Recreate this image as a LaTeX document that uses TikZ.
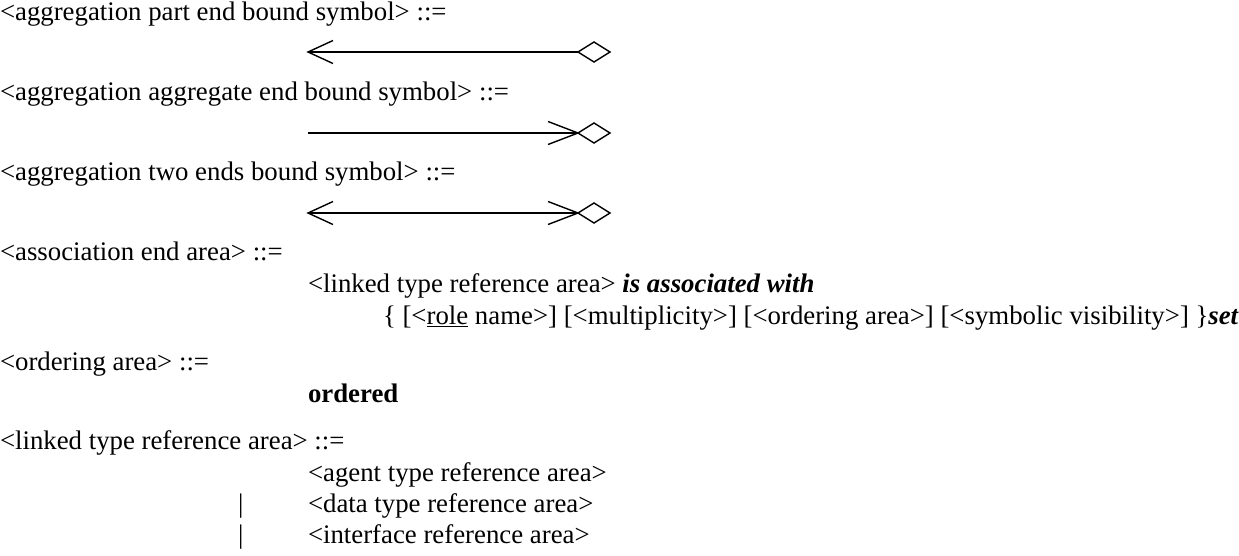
\documentclass[tikz,border=0pt]{standalone}
\usepackage{fontspec}
\setmainfont{Liberation Serif}
\usetikzlibrary{calc}
\begin{document}
\begin{tikzpicture}[x=1pt,y=-1pt,
  txt/.style={anchor=mid west, inner sep=0pt, outer sep=0pt, font=\fontsize{26.8}{32}\selectfont},
  ln/.style={line width=1.8pt},
  thin/.style={line width=1.4pt, line join=miter}]
\useasboundingbox (0,0) rectangle (1239,555);
% rule 1
\node[txt] (r1) at (0,18) {<aggregation part end bound symbol> ::=};
\coordinate (a1s) at (308,52);
\coordinate (a1e) at (578,52);
\draw[ln] (a1s) -- (a1e);
\draw[thin] ($(a1s)+(25,-11.5)$) -- (a1s) -- ($(a1s)+(25,11.5)$);
\draw[thin] (a1e) -- ++(16,-10) -- ++(16,10) -- ++(-16,10) -- cycle;
% rule 2
\node[txt] (r2) at (0,98) {<aggregation aggregate end bound symbol> ::=};
\coordinate (a2s) at (308,133);
\coordinate (a2e) at (578,133);
\draw[ln] (a2s) -- (a2e);
\draw[thin] ($(a2e)+(-30,-11.5)$) -- (a2e) -- ($(a2e)+(-30,11.5)$);
\draw[thin] (a2e) -- ++(16,-10) -- ++(16,10) -- ++(-16,10) -- cycle;
% rule 3
\node[txt] (r3) at (0,178) {<aggregation two ends bound symbol> ::=};
\coordinate (a3s) at (308,213);
\coordinate (a3e) at (578,213);
\draw[ln] (a3s) -- (a3e);
\draw[thin] ($(a3s)+(25,-11.5)$) -- (a3s) -- ($(a3s)+(25,11.5)$);
\draw[thin] ($(a3e)+(-30,-11.5)$) -- (a3e) -- ($(a3e)+(-30,11.5)$);
\draw[thin] (a3e) -- ++(16,-10) -- ++(16,10) -- ++(-16,10) -- cycle;
% rule 4
\node[txt] (r4) at (0,258) {<association end area> ::=};
\node[txt] (r4a) at (308,290) {<linked type reference area> \textbf{\textit{is associated with}}};
\node[txt] (r4b) at (383,322) {\{ [<\underline{role} name>] [<multiplicity>] [<ordering area>] [<symbolic visibility>] \}\textbf{\textit{set}}};
% rule 5
\node[txt] (r5) at (0,368) {<ordering area> ::=};
\node[txt] (r5a) at (308,400) {\textbf{ordered}};
% rule 6
\node[txt] (r6) at (0,447) {<linked type reference area> ::=};
\node[txt] (r6a) at (308,479) {<agent type reference area>};
\node[txt] (b1) at (238,510) {|};
\node[txt] (r6b) at (308,510) {<data type reference area>};
\node[txt] (b2) at (238,541) {|};
\node[txt] (r6c) at (308,541) {<interface reference area>};
\end{tikzpicture}
\end{document}
